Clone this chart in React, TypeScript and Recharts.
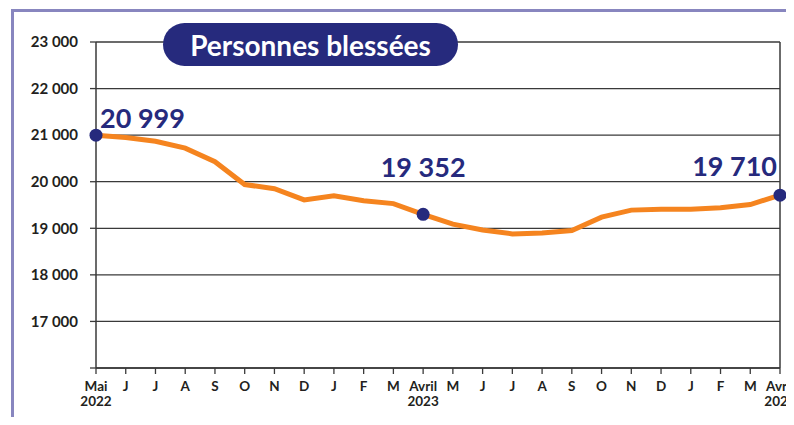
import React from 'react';
import { LineChart, Line, XAxis, YAxis, CartesianGrid, ReferenceLine } from 'recharts';

// months from May 2022 to April 2024
const months = ['Mai', 'J', 'J', 'A', 'S', 'O', 'N', 'D', 'J', 'F', 'M', 'Avril', 'M', 'J', 'J', 'A', 'S', 'O', 'N', 'D', 'J', 'F', 'M', 'Avril'];
const years = ['2022', '', '', '', '', '', '', '', '', '', '', '2023', '', '', '', '', '', '', '', '', '', '', '', '2024'];
const injured = [20999, 20950, 20870, 20720, 20430, 19940, 19850, 19610, 19700, 19590, 19530, 19300, 19090, 18965, 18880, 18900, 18950, 19240, 19390, 19410, 19410, 19440, 19510, 19710];
const yTicks = [16000, 17000, 18000, 19000, 20000, 21000, 22000, 23000];
const highlightIdx = [0, 11, 23];
const highlightText = ['20 999', '19 352', '19 710'];

const NAVY = '#262a7d';
const ORANGE = '#f5841f';
const GRID = '#3a3a3a';
const FONT = 'Lato, "Open Sans", sans-serif';

const data = injured.map((v, i) => ({ i, v }));

const fmt = (v: number) => String(v).replace(/\B(?=(\d{3})+(?!\d))/g, ' ');

const MonthTick = (props: any) => {
  const { x, y, payload } = props;
  const idx = payload.value as number;
  return (
    <text x={x} y={y + 15} textAnchor="middle" fontFamily={FONT} fontWeight={700} fontSize={13.5} fill="#231f20">
      <tspan x={x}>{months[idx]}</tspan>
      {years[idx] && <tspan x={x} dy={15}>{years[idx]}</tspan>}
    </text>
  );
};

const HighlightDot = (props: any) => {
  const { cx, cy, index } = props;
  const k = highlightIdx.indexOf(index);
  if (k < 0) return <g key={index} />;
  // label placement for first / middle / last marker
  let anchor: 'start' | 'middle' | 'end' = 'middle';
  let tx = cx;
  let ty = cy - 37;
  if (k === 0) { anchor = 'start'; tx = cx + 4; ty = cy - 7; }
  if (k === highlightIdx.length - 1) { anchor = 'end'; tx = cx - 3; ty = cy - 19; }
  return (
    <g key={index}>
      <circle cx={cx} cy={cy} r={6.5} fill={NAVY} />
      <text x={tx} y={ty} textAnchor={anchor} fontFamily={FONT} fontWeight={700} fontSize={27} fill={NAVY}>
        {highlightText[k]}
      </text>
    </g>
  );
};

export default function App() {
  return (
    <div style={{ position: 'relative', width: 794, height: 425, overflow: 'hidden', background: '#fff', margin: -8 }}>
      <div style={{ position: 'absolute', left: 11, top: 9, width: 820, height: 500, border: '3px solid #8886bf', boxSizing: 'border-box' }} />
      <div style={{ position: 'absolute', left: 0, top: 0 }}>
        <LineChart width={794} height={425} data={data} margin={{ top: 42, right: 14, bottom: 27, left: 0 }}>
          <CartesianGrid horizontal vertical={false} stroke={GRID} strokeWidth={1.3} />
          <XAxis
            dataKey="i"
            type="number"
            domain={[0, 23]}
            ticks={data.map(d => d.i)}
            interval={0}
            height={30}
            tick={<MonthTick />}
            tickSize={6}
            axisLine={{ stroke: GRID, strokeWidth: 1.5 }}
            tickLine={{ stroke: GRID, strokeWidth: 1.3 }}
          />
          <YAxis
            width={96}
            domain={[16000, 23000]}
            ticks={yTicks}
            interval={0}
            tickFormatter={(v: number) => (v === 16000 ? '' : fmt(v))}
            tick={{ fontFamily: FONT, fontWeight: 700, fontSize: 15, fill: '#231f20' }}
            tickSize={6}
            tickMargin={12}
            axisLine={{ stroke: GRID, strokeWidth: 1.5 }}
            tickLine={{ stroke: GRID, strokeWidth: 1.3 }}
          />
          <ReferenceLine x={23} stroke={GRID} strokeWidth={1.5} />
          <Line
            type="linear"
            dataKey="v"
            stroke={ORANGE}
            strokeWidth={5}
            dot={<HighlightDot />}
            activeDot={false}
            isAnimationActive={false}
          />
        </LineChart>
      </div>
      <div
        style={{
          position: 'absolute',
          left: 163,
          top: 23,
          width: 295,
          height: 43,
          borderRadius: 22,
          background: NAVY,
          color: '#fff',
          fontFamily: FONT,
          fontWeight: 700,
          fontSize: 28,
          display: 'flex',
          alignItems: 'center',
          justifyContent: 'center',
        }}
      >
        Personnes blessées
      </div>
    </div>
  );
}
